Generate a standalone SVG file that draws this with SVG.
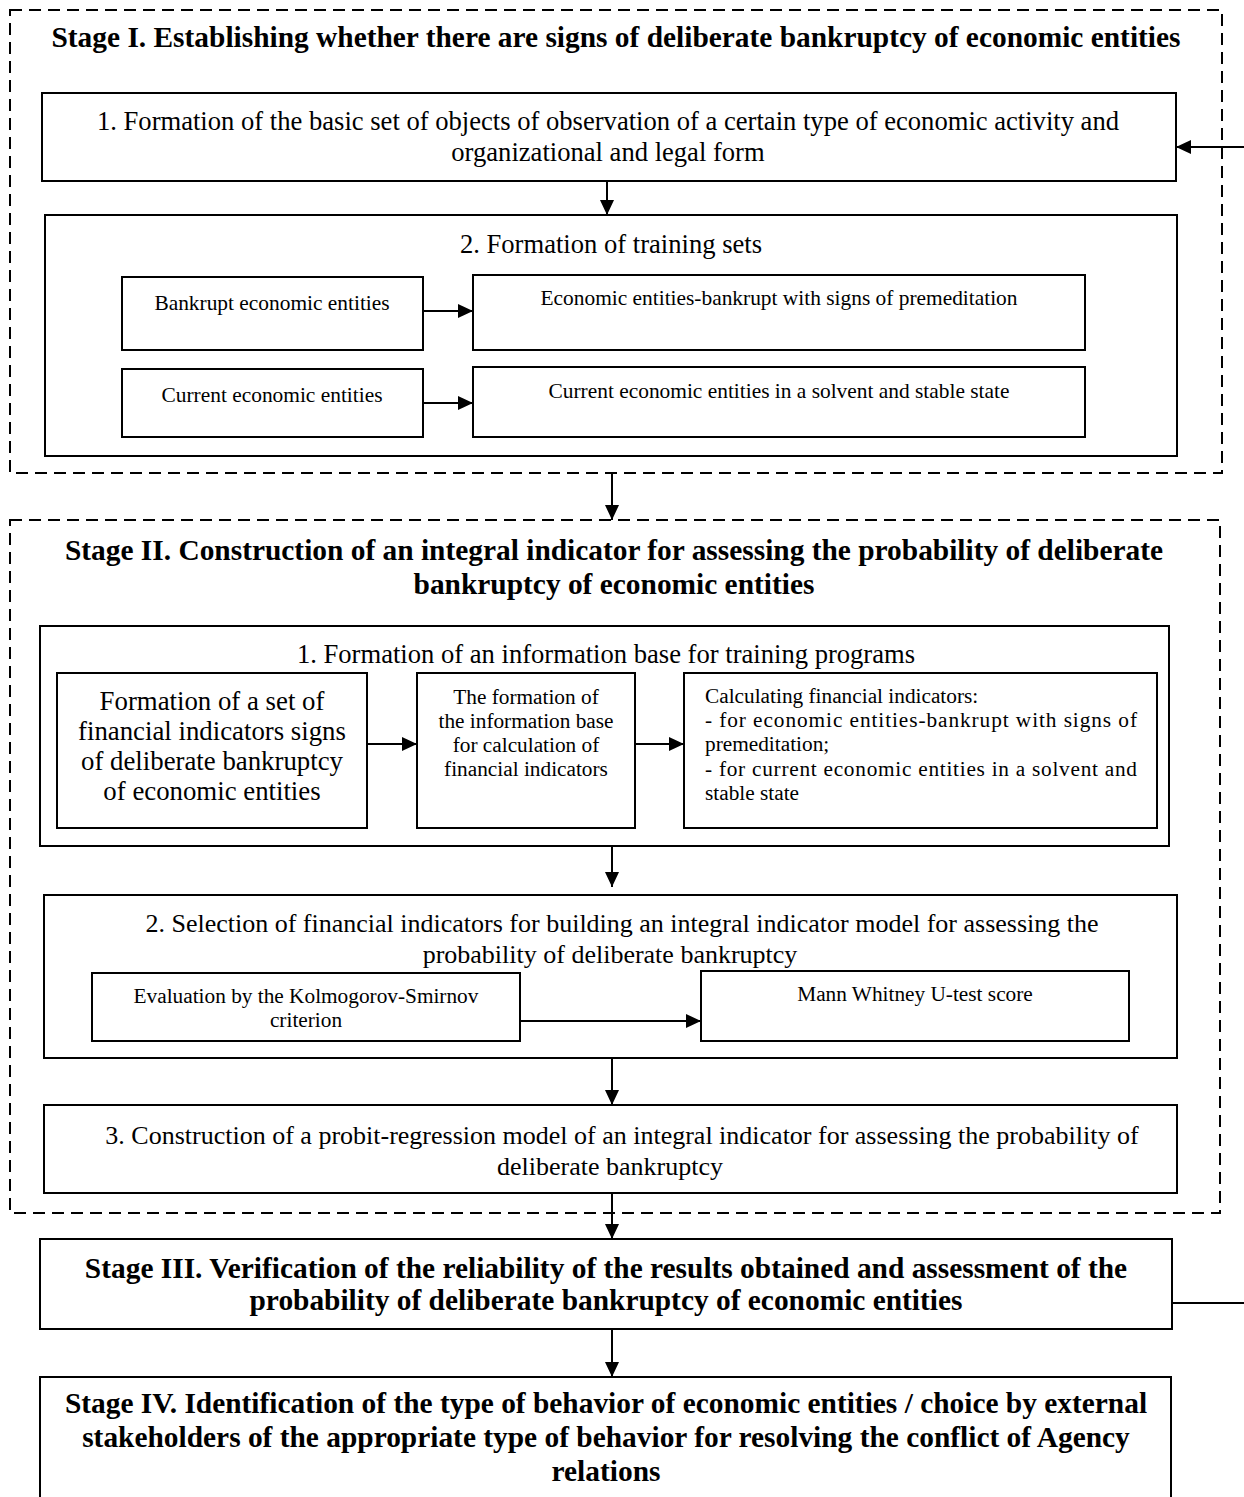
<svg xmlns="http://www.w3.org/2000/svg" width="1244" height="1497" viewBox="0 0 1244 1497" font-family="'Liberation Serif', serif">
<defs>
<marker id="ahb" markerWidth="15" markerHeight="14" refX="15" refY="7" orient="auto" markerUnits="userSpaceOnUse">
<path d="M0,0 L15,7 L0,14 Z" fill="#000"/>
</marker>
</defs>
<style>
text{font-family:'Liberation Serif',serif;fill:#000}
.b{font-weight:bold;font-size:29.4px}
.r24{font-size:26.6px}
.r26{font-size:26px}
.r19{font-size:21.4px}
.r18{font-size:21.3px}
.r25{font-size:26.8px}
.box{fill:#fff;stroke:#000;stroke-width:2}
.dash{fill:none;stroke:#000;stroke-width:2;stroke-dasharray:12,7}
.c{stroke:#000;stroke-width:2;fill:none}
</style>
<rect width="1244" height="1497" fill="#fff"/>

<g id="stage1">
<rect class="dash" x="10" y="10" width="1212" height="463"/>
<text class="b" x="616" y="47" text-anchor="middle">Stage I. Establishing whether there are signs of deliberate bankruptcy of economic entities</text>
</g>
<g id="s1-box1">
<rect class="box" x="42" y="93" width="1134" height="88"/>
<text class="r24" x="608" y="130" text-anchor="middle">1. Formation of the basic set of objects of observation of a certain type of economic activity and</text>
<text class="r24" x="608" y="161" text-anchor="middle">organizational and legal form</text>
</g>
<g id="s1-box2">
<rect class="box" x="45" y="215" width="1132" height="241"/>
<text class="r24" x="611" y="253" text-anchor="middle">2. Formation of training sets</text>
</g>
<g id="bankrupt">
<rect class="box" x="122" y="277" width="301" height="73"/>
<text class="r19" x="272" y="310" text-anchor="middle">Bankrupt economic entities</text>
</g>
<g id="bankrupt-prem">
<rect class="box" x="473" y="275" width="612" height="75"/>
<text class="r19" x="779" y="305" text-anchor="middle">Economic entities-bankrupt with signs of premeditation</text>
</g>
<g id="current">
<rect class="box" x="122" y="369" width="301" height="68"/>
<text class="r19" x="272" y="402" text-anchor="middle">Current economic entities</text>
</g>
<g id="current-stable">
<rect class="box" x="473" y="367" width="612" height="70"/>
<text class="r19" x="779" y="398" text-anchor="middle">Current economic entities in a solvent and stable state</text>
</g>

<g id="stage2">
<rect class="dash" x="10" y="520" width="1210" height="693"/>
<text class="b" x="614" y="560" text-anchor="middle">Stage II. Construction of an integral indicator for assessing the probability of deliberate</text>
<text class="b" x="614" y="594" text-anchor="middle">bankruptcy of economic entities</text>
</g>
<g id="s2-box1">
<rect class="box" x="40" y="626" width="1129" height="220"/>
<text class="r24" x="606" y="663" text-anchor="middle">1. Formation of an information base for training programs</text>
</g>
<g id="set-indicators">
<rect class="box" x="57" y="673" width="310" height="155"/>
<text class="r25" x="212" y="710" text-anchor="middle">Formation of a set of</text>
<text class="r25" x="212" y="740" text-anchor="middle">financial indicators signs</text>
<text class="r25" x="212" y="770" text-anchor="middle">of deliberate bankruptcy</text>
<text class="r25" x="212" y="800" text-anchor="middle">of economic entities</text>
</g>
<g id="info-base">
<rect class="box" x="417" y="673" width="218" height="155"/>
<text class="r18" x="526" y="704" text-anchor="middle">The formation of</text>
<text class="r18" x="526" y="728" text-anchor="middle">the information base</text>
<text class="r18" x="526" y="752" text-anchor="middle">for calculation of</text>
<text class="r18" x="526" y="776" text-anchor="middle">financial indicators</text>
</g>
<g id="calc">
<rect class="box" x="684" y="673" width="473" height="155"/>
<text class="r18" x="705" y="703">Calculating financial indicators:</text>
<text class="r18" x="705" y="727" textLength="432" lengthAdjust="spacing">- for economic entities-bankrupt with signs of</text>
<text class="r18" x="705" y="751">premeditation;</text>
<text class="r18" x="705" y="776" textLength="432" lengthAdjust="spacing">- for current economic entities in a solvent and</text>
<text class="r18" x="705" y="800">stable state</text>
</g>
<g id="s2-box2">
<rect class="box" x="44" y="895" width="1133" height="163"/>
<text class="r26" x="622" y="932" text-anchor="middle">2. Selection of financial indicators for building an integral indicator model for assessing the</text>
<text class="r26" x="610" y="963" text-anchor="middle">probability of deliberate bankruptcy</text>
</g>
<g id="ks">
<rect class="box" x="92" y="973" width="428" height="68"/>
<text class="r18" x="306" y="1003" text-anchor="middle">Evaluation by the Kolmogorov-Smirnov</text>
<text class="r18" x="306" y="1027" text-anchor="middle">criterion</text>
</g>
<g id="mw">
<rect class="box" x="701" y="971" width="428" height="70"/>
<text class="r18" x="915" y="1001" text-anchor="middle">Mann Whitney U-test score</text>
</g>
<g id="s2-box3">
<rect class="box" x="44" y="1105" width="1133" height="88"/>
<text class="r26" x="622" y="1144" text-anchor="middle">3. Construction of a probit-regression model of an integral indicator for assessing the probability of</text>
<text class="r26" x="610" y="1175" text-anchor="middle">deliberate bankruptcy</text>
</g>

<g id="stage3">
<rect class="box" x="40" y="1239" width="1132" height="90"/>
<text class="b" x="606" y="1278" text-anchor="middle">Stage III. Verification of the reliability of the results obtained and assessment of the</text>
<text class="b" x="606" y="1310" text-anchor="middle">probability of deliberate bankruptcy of economic entities</text>
</g>
<g id="stage4">
<path class="c" d="M40,1500 V1377 H1171 V1500"/>
<text class="b" x="606" y="1413" text-anchor="middle">Stage IV. Identification of the type of behavior of economic entities / choice by external</text>
<text class="b" x="606" y="1447" text-anchor="middle">stakeholders of the appropriate type of behavior for resolving the conflict of Agency</text>
<text class="b" x="606" y="1481" text-anchor="middle">relations</text>
</g>

<g id="connectors">
<line class="c" x1="607" y1="181" x2="607" y2="215" marker-end="url(#ahb)"/>
<line class="c" x1="423" y1="311" x2="473" y2="311" marker-end="url(#ahb)"/>
<line class="c" x1="423" y1="403" x2="473" y2="403" marker-end="url(#ahb)"/>
<line class="c" x1="612" y1="473" x2="612" y2="520" marker-end="url(#ahb)"/>
<line class="c" x1="367" y1="744" x2="417" y2="744" marker-end="url(#ahb)"/>
<line class="c" x1="635" y1="744" x2="684" y2="744" marker-end="url(#ahb)"/>
<line class="c" x1="612" y1="846" x2="612" y2="887" marker-end="url(#ahb)"/>
<line class="c" x1="520" y1="1021" x2="701" y2="1021" marker-end="url(#ahb)"/>
<line class="c" x1="612" y1="1058" x2="612" y2="1105" marker-end="url(#ahb)"/>
<line class="c" x1="612" y1="1193" x2="612" y2="1239" marker-end="url(#ahb)"/>
<line class="c" x1="612" y1="1329" x2="612" y2="1377" marker-end="url(#ahb)"/>
<line class="c" x1="1172" y1="1303" x2="1244" y2="1303"/>
<line class="c" x1="1244" y1="147" x2="1176" y2="147" marker-end="url(#ahb)"/>
</g>
</svg>
